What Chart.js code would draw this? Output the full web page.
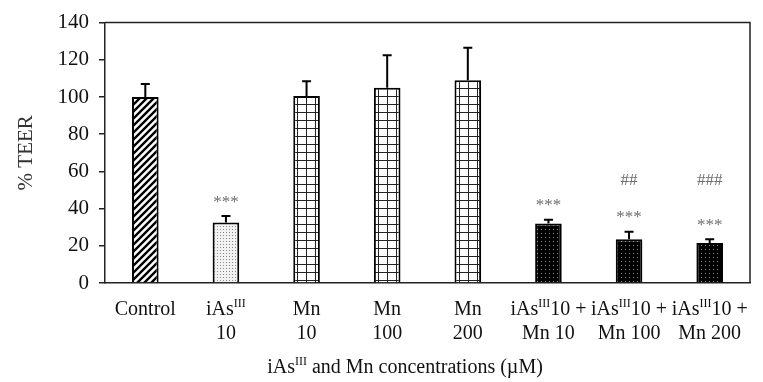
<!DOCTYPE html>
<html>
<head>
<meta charset="utf-8">
<script src="https://cdn.jsdelivr.net/npm/chart.js@4"></script>
<style>
  body { margin: 0; background: #fff; }
  #wrap { width: 763px; height: 382px; }
</style>
</head>
<body>
<div id="wrap"><canvas id="teerChart"></canvas></div>
<script>
// data
const categories = ['Control', 'iAsIII 10', 'Mn 10', 'Mn 100', 'Mn 200',
    'iAsIII10 + Mn 10', 'iAsIII10 + Mn 100', 'iAsIII10 + Mn 200'];
// {..} marks superscript
const tickLines = [['Control'], ['iAs{III}', '10'], ['Mn', '10'], ['Mn', '100'], ['Mn', '200'],
    ['iAs{III}10 +', 'Mn 10'], ['iAs{III}10 +', 'Mn 100'], ['iAs{III}10 +', 'Mn 200']];
const teer = [100, 32.5, 100.5, 105, 109, 32, 23.5, 21.5];
const teerSD = [7, 3.5, 8, 17.5, 17.5, 2, 4, 2];
const stars = ['', '***', '', '', '', '***', '***', '***'];
const hashes = ['', '', '', '', '', '', '##', '###'];
const fills = ['hatch', 'dots', 'grid', 'grid', 'grid', 'dark', 'dark', 'dark'];
const yMin = 0, yMax = 140, yStep = 20;
const xTitle = 'iAs{III} and Mn concentrations (\u00b5M)';
const yTitle = '% TEER';

const serif = '"Liberation Serif", "Times New Roman", serif';

function makePattern(kind) {
    const c = document.createElement('canvas');
    const g = c.getContext('2d');
    if (kind === 'hatch') {
        c.width = 7; c.height = 7;
        g.fillStyle = '#fff'; g.fillRect(0, 0, 7, 7);
        g.strokeStyle = '#000'; g.lineWidth = 2.4;
        g.beginPath();
        g.moveTo(-1, 8); g.lineTo(8, -1);
        g.moveTo(-1, 1); g.lineTo(1, -1);
        g.moveTo(6, 8); g.lineTo(8, 6);
        g.stroke();
    } else if (kind === 'dots') {
        c.width = 3; c.height = 3;
        g.fillStyle = '#f2f2f2'; g.fillRect(0, 0, 3, 3);
        g.fillStyle = '#8a8a8a'; g.fillRect(1, 1, 1, 1);
    } else if (kind === 'grid') {
        c.width = 9; c.height = 8;
        g.fillStyle = '#fff'; g.fillRect(0, 0, 9, 8);
        g.fillStyle = '#222';
        g.fillRect(0, 0, 1, 8);
        g.fillRect(0, 0, 9, 1);
    } else {
        c.width = 4; c.height = 4;
        g.fillStyle = '#000'; g.fillRect(0, 0, 4, 4);
        g.fillStyle = '#8c8c8c'; g.fillRect(1, 1, 1, 1);
    }
    const ctx = document.getElementById('teerChart').getContext('2d');
    return ctx.createPattern(c, 'repeat');
}

// draw text with {superscript} parts, centred on cx
function drawRich(ctx, text, cx, cy, size) {
    const parts = text.split(/(\{[^}]*\})/).filter(p => p.length);
    const supSize = Math.round(size * 0.62);
    const pieces = parts.map(p => {
        const sup = p[0] === '{';
        const t = sup ? p.slice(1, -1) : p;
        ctx.font = (sup ? supSize : size) + 'px ' + serif;
        return { t, sup, w: ctx.measureText(t).width };
    });
    const total = pieces.reduce((s, p) => s + p.w, 0);
    let x = cx - total / 2;
    ctx.textAlign = 'left';
    ctx.textBaseline = 'middle';
    pieces.forEach(p => {
        ctx.font = (p.sup ? supSize : size) + 'px ' + serif;
        ctx.fillText(p.t, x, p.sup ? cy - size * 0.3 : cy);
        x += p.w;
    });
}

const extras = {
    id: 'extras',
    afterDatasetsDraw(chart) {
        const ctx = chart.ctx;
        const y = chart.scales.y;
        const meta = chart.getDatasetMeta(0);
        ctx.save();
        // one-sided error bars
        ctx.strokeStyle = '#000';
        ctx.lineWidth = 2;
        meta.data.forEach((bar, i) => {
            const top = y.getPixelForValue(teer[i] + teerSD[i]);
            ctx.beginPath();
            ctx.moveTo(bar.x, bar.y);
            ctx.lineTo(bar.x, top);
            ctx.moveTo(bar.x - 4.5, top);
            ctx.lineTo(bar.x + 4.5, top);
            ctx.stroke();
            ctx.fillStyle = '#6e6e6e';
            ctx.font = '17px ' + serif;
            ctx.textAlign = 'center';
            ctx.textBaseline = 'middle';
            if (stars[i]) ctx.fillText(stars[i], bar.x, top - 14);
            if (hashes[i]) ctx.fillText(hashes[i], bar.x, y.getPixelForValue(55));
        });
        // top and right frame
        const a = chart.chartArea;
        ctx.strokeStyle = '#222';
        ctx.lineWidth = 1.5;
        ctx.beginPath();
        ctx.moveTo(a.left, a.top);
        ctx.lineTo(a.right, a.top);
        ctx.lineTo(a.right, a.bottom);
        ctx.stroke();
        // category labels
        const x = chart.scales.x;
        ctx.fillStyle = '#111';
        tickLines.forEach((lines, i) => {
            const cx = x.getPixelForTick(i);
            lines.forEach((ln, k) => drawRich(ctx, ln, cx, a.bottom + 27 + k * 24, 20));
        });
        drawRich(ctx, xTitle, 405, 368, 20);
        ctx.restore();
    }
};

new Chart(document.getElementById('teerChart'), {
    type: 'bar',
    data: {
        labels: categories,
        datasets: [{
            data: teer,
            backgroundColor: fills.map(makePattern),
            borderColor: '#000',
            borderWidth: 2,
            barPercentage: 0.33,
            categoryPercentage: 1
        }]
    },
    options: {
        responsive: true,
        maintainAspectRatio: false,
        animation: false,
        layout: { padding: { left: 0, right: 13, top: 8, bottom: 0 } },
        plugins: { legend: { display: false }, tooltip: { enabled: false } },
        scales: {
            x: {
                grid: { display: false },
                border: { color: '#222', width: 1.5 },
                ticks: { display: false },
                afterFit(s) { s.height = 99; }
            },
            y: {
                min: yMin,
                max: yMax,
                ticks: {
                    stepSize: yStep,
                    color: '#111',
                    padding: 10,
                    font: { family: serif, size: 21 }
                },
                grid: { drawOnChartArea: false, tickLength: 6, color: '#222', lineWidth: 1.5 },
                border: { color: '#222', width: 1.5 },
                title: {
                    display: true,
                    text: yTitle,
                    color: '#333',
                    padding: { top: 14, bottom: 0 },
                    font: { family: serif, size: 21 }
                },
                afterFit(s) { s.width = 105; }
            }
        }
    },
    plugins: [extras]
});
</script>
</body>
</html>
